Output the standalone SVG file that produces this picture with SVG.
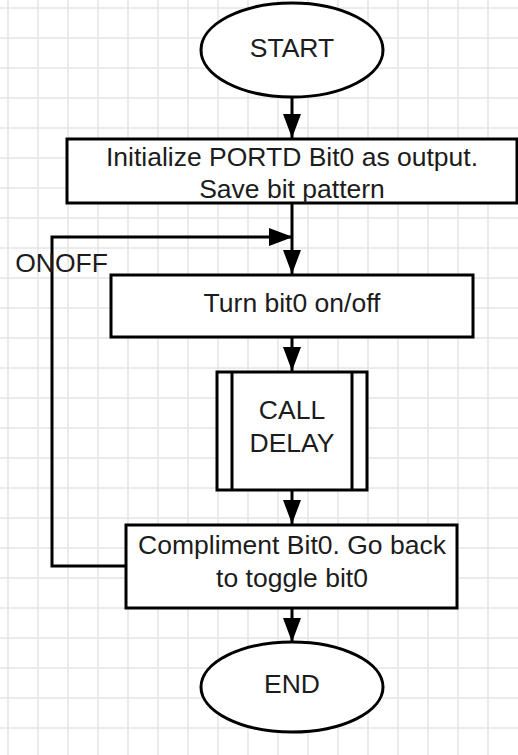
<svg xmlns="http://www.w3.org/2000/svg" width="518" height="755" viewBox="0 0 518 755">
<defs>
<style>
.grid line{stroke:#e4e4e4;stroke-width:1.5}
.shape{fill:#fff;stroke:#000;stroke-width:3}
.conn{fill:none;stroke:#000;stroke-width:3}
text{font-family:"Liberation Sans",Arial,sans-serif;font-size:26.5px;fill:#1c1c1c;text-anchor:middle}
</style>
<marker id="arr" viewBox="0 0 24 18" refX="24" refY="9" markerWidth="24" markerHeight="18" markerUnits="userSpaceOnUse" orient="auto">
<path d="M0,0 L24,9 L0,18 Z" fill="#000"/>
</marker>
</defs>
<rect width="518" height="755" fill="#fff"/>
<g class="grid">
<line x1="8" y1="0" x2="8" y2="755"/><line x1="38" y1="0" x2="38" y2="755"/><line x1="68" y1="0" x2="68" y2="755"/><line x1="98" y1="0" x2="98" y2="755"/><line x1="128" y1="0" x2="128" y2="755"/><line x1="158" y1="0" x2="158" y2="755"/><line x1="188" y1="0" x2="188" y2="755"/><line x1="218" y1="0" x2="218" y2="755"/><line x1="248" y1="0" x2="248" y2="755"/><line x1="278" y1="0" x2="278" y2="755"/><line x1="308" y1="0" x2="308" y2="755"/><line x1="338" y1="0" x2="338" y2="755"/><line x1="368" y1="0" x2="368" y2="755"/><line x1="398" y1="0" x2="398" y2="755"/><line x1="428" y1="0" x2="428" y2="755"/><line x1="458" y1="0" x2="458" y2="755"/><line x1="488" y1="0" x2="488" y2="755"/>
<line x1="0" y1="8" x2="518" y2="8"/><line x1="0" y1="38" x2="518" y2="38"/><line x1="0" y1="68" x2="518" y2="68"/><line x1="0" y1="98" x2="518" y2="98"/><line x1="0" y1="128" x2="518" y2="128"/><line x1="0" y1="158" x2="518" y2="158"/><line x1="0" y1="188" x2="518" y2="188"/><line x1="0" y1="218" x2="518" y2="218"/><line x1="0" y1="248" x2="518" y2="248"/><line x1="0" y1="278" x2="518" y2="278"/><line x1="0" y1="308" x2="518" y2="308"/><line x1="0" y1="338" x2="518" y2="338"/><line x1="0" y1="368" x2="518" y2="368"/><line x1="0" y1="398" x2="518" y2="398"/><line x1="0" y1="428" x2="518" y2="428"/><line x1="0" y1="458" x2="518" y2="458"/><line x1="0" y1="488" x2="518" y2="488"/><line x1="0" y1="518" x2="518" y2="518"/><line x1="0" y1="548" x2="518" y2="548"/><line x1="0" y1="578" x2="518" y2="578"/><line x1="0" y1="608" x2="518" y2="608"/><line x1="0" y1="638" x2="518" y2="638"/><line x1="0" y1="668" x2="518" y2="668"/><line x1="0" y1="698" x2="518" y2="698"/><line x1="0" y1="728" x2="518" y2="728"/>
</g>
<g id="connectors">
<line class="conn" x1="292" y1="98" x2="292" y2="138" marker-end="url(#arr)"/>
<line class="conn" x1="292" y1="204" x2="292" y2="274" marker-end="url(#arr)"/>
<polyline class="conn" points="126,566 52,566 52,237 293,237" marker-end="url(#arr)"/>
<line class="conn" x1="292" y1="337" x2="292" y2="371" marker-end="url(#arr)"/>
<line class="conn" x1="292" y1="490" x2="292" y2="524" marker-end="url(#arr)"/>
<line class="conn" x1="292" y1="608" x2="292" y2="642" marker-end="url(#arr)"/>
<text x="61.5" y="272">ONOFF</text>
</g>
<g id="start">
<ellipse class="shape" cx="292" cy="50" rx="91" ry="47"/>
<text x="292" y="57">START</text>
</g>
<g id="init">
<rect class="shape" x="67" y="139" width="450" height="64"/>
<text x="292" y="166">Initialize PORTD Bit0 as output.</text>
<text x="292" y="198">Save bit pattern</text>
</g>
<g id="turn">
<rect class="shape" x="111" y="275" width="362" height="62"/>
<text x="292" y="312">Turn bit0 on/off</text>
</g>
<g id="call">
<rect class="shape" x="217" y="372" width="150" height="118"/>
<line class="shape" x1="232" y1="372" x2="232" y2="490"/>
<line class="shape" x1="352" y1="372" x2="352" y2="490"/>
<text x="292" y="419">CALL</text>
<text x="292" y="452">DELAY</text>
</g>
<g id="compliment">
<rect class="shape" x="126" y="525" width="331" height="83"/>
<text x="292" y="554">Compliment Bit0. Go back</text>
<text x="292" y="587">to toggle bit0</text>
</g>
<g id="end">
<ellipse class="shape" cx="292" cy="687" rx="91" ry="45"/>
<text x="292" y="693">END</text>
</g>
</svg>
